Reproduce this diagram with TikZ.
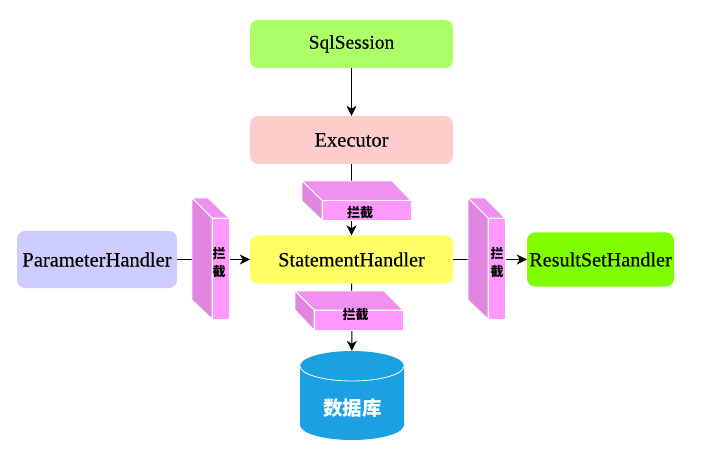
\documentclass[tikz,border=0pt]{standalone}
\usepackage{fontspec}
\setmainfont{Liberation Serif}
\newfontfamily\latinfont[FakeBold=0.25]{Liberation Serif}
\newfontfamily\cjk{Noto Sans CJK SC}
\usetikzlibrary{arrows.meta}
\definecolor{sqlc}{HTML}{ADFF66}
\definecolor{exec}{HTML}{FFCCCC}
\definecolor{stmc}{HTML}{FFFF66}
\definecolor{parc}{HTML}{CCCCFF}
\definecolor{resc}{HTML}{80FF00}
\definecolor{dbc}{HTML}{1BA1E2}
\definecolor{front}{HTML}{FF99FF}
\definecolor{topf}{HTML}{F090F0}
\definecolor{leftf}{HTML}{E085E0}
\tikzset{
  handler/.style={rounded corners=8pt,inner sep=0pt,text=black},
  hsize/.style={font=\latinfont\fontsize{#1}{22}\selectfont},
  flow/.style={draw=black,line width=1pt,-{Stealth[length=10pt,width=10pt,inset=3pt]}},
  faceedge/.style={draw=white,line width=0.9pt,line join=round},
  blocklabel/.style={font=\cjk\bfseries\fontsize{13}{14}\selectfont,text=black,inner sep=0pt,align=center},
}
\newcommand{\blockbox}[8]{%
  \path[faceedge,fill=topf] (#1,#2) -- (#7,#2) -- (#5,#4) -- (#3,#4) -- cycle;
  \path[faceedge,fill=leftf] (#1,#2) -- (#3,#4) -- (#3,#6) -- (#1,#8) -- cycle;
  \path[faceedge,fill=front] (#3,#4) rectangle (#5,#6);
}
\begin{document}
\begin{tikzpicture}[x=1pt,y=-1pt]
\useasboundingbox (0,0) rectangle (715,457);
\path[fill=white] (0,0) rectangle (715,457);
\node[handler,hsize=19.5,fill=sqlc,minimum width=203pt,minimum height=48pt] (sql) at (351.5,44) {SqlSession};
\node[handler,hsize=20.5,fill=exec,minimum width=203pt,minimum height=48pt] (ex) at (351.5,140) {Executor};
\node[handler,hsize=20.3,fill=stmc,minimum width=203pt,minimum height=48pt] (stm) at (351.5,259.5) {StatementHandler};
\node[handler,hsize=20.5,fill=parc,minimum width=160pt,minimum height=57pt] (par) at (97,259.5) {ParameterHandler};
\node[handler,hsize=20.2,fill=resc,minimum width=147pt,minimum height=54pt] (res) at (600.5,259.5) {ResultSetHandler};
\node[inner sep=0pt,minimum width=104pt,minimum height=89pt] (db) at (352,395.5) {};
% database
\fill[dbc] (300,366) -- (300,425) arc[start angle=180,end angle=360,x radius=52pt,y radius=15pt] -- (404,366) arc[start angle=0,end angle=180,x radius=52pt,y radius=15pt] -- cycle;
\draw[white,line width=0.8pt] (300,366) arc[start angle=180,end angle=360,x radius=52pt,y radius=15pt];
\node[font=\cjk\bfseries\fontsize{19.5}{20}\selectfont,text=white,inner sep=0pt] (dbl) at (352.5,408) {数据库};
% connectors
\draw[flow] (sql) -- (ex);
\draw[flow] (ex) -- (stm);
\draw[flow] (stm) -- (db);
\draw[flow] (par) -- (stm);
\draw[flow] (stm) -- (res);
% interceptor blocks
\blockbox{302}{181}{322}{200.5}{411}{220}{392}{201}
\node[blocklabel] (b1) at (360,213) {拦截};
\blockbox{295}{291}{314}{310}{403}{330}{384}{310}
\node[blocklabel] (b2) at (355.5,314.5) {拦截};
\blockbox{192}{198}{212}{218}{229}{319}{208}{300}
\node[blocklabel] (b3) at (219,263) {拦\\[4pt]截};
\blockbox{468}{198}{488}{218}{505}{319}{485}{300}
\node[blocklabel] (b4) at (497,263) {拦\\[4pt]截};
\end{tikzpicture}
\end{document}
